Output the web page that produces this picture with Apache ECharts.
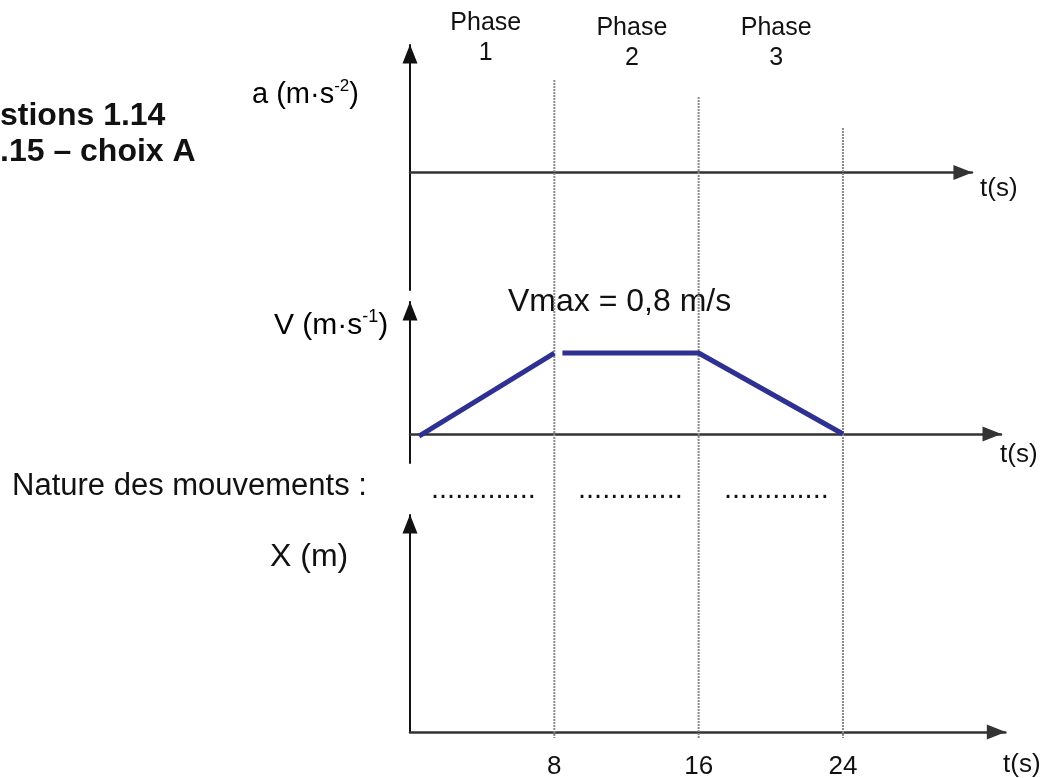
<!DOCTYPE html>
<html>
<head>
<meta charset="utf-8">
<style>
  html, body { margin: 0; background: #fff; }
  #chart { width: 1042px; height: 778px; }
</style>
<script src="https://cdn.jsdelivr.net/npm/echarts@6.0.0/dist/echarts.min.js"></script>
</head>
<body>
<div id="chart"></div>
<script>
  // valeurs
  const phaseNames = ['Phase\n1', 'Phase\n2', 'Phase\n3']
  const phaseMid = [4.2, 12.3, 20.3]
  const boundaries = [8, 16, 24]
  const tickValues = [8, 16, 24]
  const vRise = [[0.5, -0.02], [8, 0.8]]
  const vFlatFall = [[8.45, 0.8], [16, 0.8], [24, 0]]

  // mise en page (px)
  const X0 = 410
  const PX = 18.04 // px par seconde
  const guideTop = [80, 97, 128]
  const guideBottom = 738
  const phaseY = [38, 43, 43]

  const font = '"Liberation Sans", Arial, sans-serif'
  const axisArrow = ['none', 'triangle']

  const xAxisBase = (gridIndex, max, extra) => Object.assign({
    type: 'value',
    gridIndex,
    min: 0,
    max,
    splitLine: { show: false },
    axisTick: { show: false },
    axisLabel: { show: false },
    axisLine: {
      show: true,
      symbol: axisArrow,
      symbolSize: [15, 19],
      symbolOffset: [0, -9],
      lineStyle: { color: '#333', width: 2.5 },
    },
  }, extra || {})

  const yAxisBase = (gridIndex, min, max) => ({
    type: 'value',
    gridIndex,
    min,
    max,
    splitLine: { show: false },
    axisTick: { show: false },
    axisLabel: { show: false },
    axisLine: {
      show: true,
      onZero: false,
      symbol: axisArrow,
      symbolSize: [15, 19],
      symbolOffset: [0, -9],
      lineStyle: { color: '#111', width: 2 },
    },
  })

  const txt = (x, y, text, size, weight) => ({
    type: 'text',
    x,
    y,
    style: {
      text,
      font: `${weight || 'normal'} ${size}px ${font}`,
      fill: '#111',
      align: 'left',
      verticalAlign: 'middle',
    },
  })

  const supLabel = (x, y, base, sup, size) => ({
    type: 'text',
    x,
    y,
    style: {
      text: `{n|${base}}{s|${sup}}{n|)}`,
      verticalAlign: 'middle',
      rich: {
        n: { fontSize: size, fontFamily: font, color: '#111', lineHeight: size + 6 },
        s: { fontSize: Math.round(size * 0.6), fontFamily: font, color: '#111', verticalAlign: 'top', lineHeight: size + 6, padding: [0, 0, 12, 0] },
      },
    },
  })

  const gridAt = (top, width, height) => ({
    left: X0,
    top,
    width,
    height,
    outerBoundsMode: 'none',
    containLabel: false,
  })

  const option = {
    animation: false,
    grid: [
      gridAt(45, 31.15 * PX, 245),
      gridAt(302, 32.76 * PX, 161),
      gridAt(515, 33 * PX, 217),
      gridAt(0, 33 * PX, 778),
    ],
    xAxis: [
      xAxisBase(0, 31.15),
      xAxisBase(1, 32.76),
      xAxisBase(2, 33, {
        axisLabel: {
          show: true,
          customValues: tickValues,
          margin: 22,
          fontSize: 26,
          fontFamily: font,
          color: '#111',
        },
      }),
      { type: 'value', gridIndex: 3, min: 0, max: 33, show: false },
    ],
    yAxis: [
      // a = 0 à y = 172
      yAxisBase(0, -0.96, 1.04),
      // V = 0 à y = 434, V = 0,8 à y = 353
      yAxisBase(1, -0.286, 1.304),
      yAxisBase(2, 0, 1),
      { type: 'value', gridIndex: 3, min: 0, max: 778, inverse: true, show: false },
    ],
    series: [
      ...boundaries.map((t, i) => ({
        type: 'line',
        xAxisIndex: 3,
        yAxisIndex: 3,
        symbol: 'none',
        silent: true,
        z: 1,
        lineStyle: { color: '#8a8a8a', width: 2, type: [2, 1] },
        data: [[t, guideTop[i]], [t, guideBottom]],
      })),
      {
        type: 'scatter',
        xAxisIndex: 3,
        yAxisIndex: 3,
        symbolSize: 0,
        silent: true,
        itemStyle: { opacity: 1 },
        data: phaseMid.map((t, i) => [t, phaseY[i]]),
        label: {
          show: true,
          position: 'inside',
          formatter: p => phaseNames[p.dataIndex],
          fontSize: 25,
          lineHeight: 30,
          fontFamily: font,
          color: '#111',
          opacity: 1,
        },
      },
      {
        type: 'line',
        xAxisIndex: 1,
        yAxisIndex: 1,
        symbol: 'none',
        z: 5,
        lineStyle: { color: '#2e3192', width: 5 },
        data: vRise,
      },
      {
        type: 'line',
        xAxisIndex: 1,
        yAxisIndex: 1,
        symbol: 'none',
        z: 5,
        lineStyle: { color: '#2e3192', width: 5 },
        data: vFlatFall,
      },
    ],
    graphic: [
      txt(0, 116, 'stions 1.14', 32, 'bold'),
      txt(0, 152, '.15 – choix A', 32, 'bold'),
      supLabel(252, 95, 'a (m·s', '-2', 29),
      supLabel(274, 326, 'V (m·s', '-1', 30),
      txt(508, 302, 'Vmax = 0,8 m/s', 32),
      txt(12, 486, 'Nature des mouvements :', 31),
      txt(431, 490, '.............', 29),
      txt(578, 490, '.............', 29),
      txt(724, 490, '.............', 29),
      txt(270, 557, 'X (m)', 32),
      txt(980, 189, 't(s)', 26),
      txt(1000, 455, 't(s)', 26),
      txt(1003, 765, 't(s)', 26),
    ],
  }

  const chart = echarts.init(document.getElementById('chart'))
  chart.setOption(option)
</script>
</body>
</html>
